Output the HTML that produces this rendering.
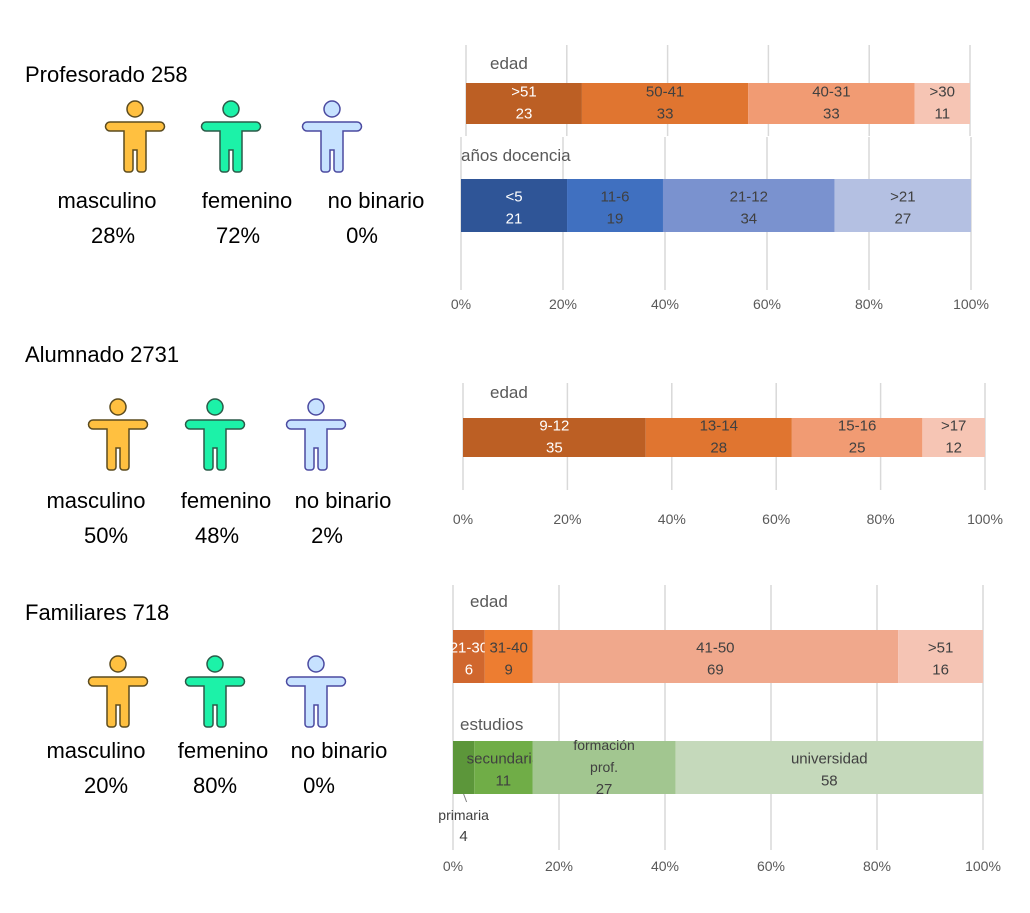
<!DOCTYPE html>
<html><head><meta charset="utf-8">
<style>
body{margin:0;background:#fff;width:1030px;height:913px;overflow:hidden;font-family:"Liberation Sans",sans-serif;}
svg{position:absolute;left:0;top:0}
</style></head>
<body>
<svg id="c" width="1030" height="913" xmlns="http://www.w3.org/2000/svg">
<defs>
<path id="person" d="M6,22 H56 a4.5,4.5 0 0 1 0,9 H42 V69 a3,3 0 0 1 -3,3 H36 a3,3 0 0 1 -3,-3 V50 H29 V69 a3,3 0 0 1 -3,3 H23 a3,3 0 0 1 -3,-3 V31 H6 a4.5,4.5 0 0 1 0,-9 Z"/>
</defs>
</svg>
<script>
// ---- data ----
const profEdadCats=[">51","50-41","40-31",">30"];
const profEdadVals=[23,33,33,11];
const profDocCats=["<5","11-6","21-12",">21"];
const profDocVals=[21,19,34,27];
const aluEdadCats=["9-12","13-14","15-16",">17"];
const aluEdadVals=[35,28,25,12];
const famEdadCats=["21-30","31-40","41-50",">51"];
const famEdadVals=[6,9,69,16];
const famEstCats=["primaria","secundaria","formación|prof.","universidad"];
const famEstVals=[4,11,27,58];
const tickLabels=["0%","20%","40%","60%","80%","100%"];
const genderCats=["masculino","femenino","no binario"];
const profGender=[28,72,0];
const aluGender=[50,48,2];
const famGender=[20,80,0];

const NS="http://www.w3.org/2000/svg";
const svg=document.getElementById('c');
function el(tag,attrs,parent){const e=document.createElementNS(NS,tag);for(const k in attrs)e.setAttribute(k,attrs[k]);(parent||svg).appendChild(e);return e;}
function txt(x,y,s,size,fill,anchor,parent){const t=el('text',{x:x,y:y,'font-size':size,fill:fill,'text-anchor':anchor||'middle','font-family':'Liberation Sans, sans-serif'},parent);t.textContent=s;return t;}

const orange1=["#BC5F24","#E07530","#F19B73","#F6C5B4"];
const orange2=["#D0672E","#ED7D31","#F0A88C","#F5C4B4"];
const blues=["#2F5597","#4070C0","#7A92CF","#B4C0E2"];
const greens=["#5C963A","#70AD47","#A2C690","#C5D9BB"];

function grid(x0,x1,y0,y1,name){
  const g=el('g',{});
  
  
  for(let i=0;i<=5;i++){const x=x0+(x1-x0)*i/5;el('line',{x1:x,x2:x,y1:y0,y2:y1,stroke:'#d9d9d9','stroke-width':1.5},g);}
}
function ticks(x0,x1,y,name){
  const g=el('g',{});
  
  
  tickLabels.forEach((l,i)=>{txt(x0+(x1-x0)*i/5,y,l,14,'#595959','middle',g);});
}
function bar(x0,x1,y0,h,cats,vals,colors,name,title,tx,ty){
  const g=el('g',{});
  
  
  const t=txt(tx,ty,title,17,'#595959','start',g);
  
  
  const sum=vals.reduce((a,b)=>a+b,0);
  const sx=v=>x0+(x1-x0)*v/sum;
  let acc=0;
  vals.forEach((v,i)=>{
    const a=sx(acc),b=sx(acc+v);acc+=v;
    const r=el('rect',{x:a,y:y0,width:b-a,height:h,fill:colors[i]},g);
    
    
    const cx=(a+b)/2, col=i==0?'#fff':'#404040';
    const lines=cats[i].split('|');
    if(cats[i]==='primaria'){
      el('line',{x1:cx,y1:y0+h,x2:cx+3,y2:y0+h+8,stroke:'#7f7f7f','stroke-width':1},g);
      txt(cx,y0+h+26,cats[i],14,'#404040','middle',g);
      txt(cx,y0+h+47,String(v),15,'#404040','middle',g);
    } else if(lines.length>1){
      txt(cx,y0+9,lines[0],14,col,'middle',g);
      txt(cx,y0+31,lines[1],14,col,'middle',g);
      txt(cx,y0+53,String(v),15,col,'middle',g);
    } else {
      const off=h>45?0:-3;
      txt(cx,y0+h/2-4+off,cats[i],15,col,'middle',g);
      txt(cx,y0+h/2+18+off,String(v),15,col,'middle',g);
    }
  });
}
const iconFill=["#FFC040","#1CF2A8","#C7E2FF"];
const iconStroke=["#5b4b1f","#2b5a48","#4b4aa0"];
function people(title,ty,centers,iconY,labelY,labelX,pctX,vals,name){
  const g=el('g',{});
  
  
  const t=txt(25,ty,title,22,'#000','start',g);
  
  
  centers.forEach((cx,i)=>{
    const ig=el('g',{transform:`translate(${cx-31},${iconY})`},g);
    
    
    el('use',{href:'#person',fill:iconFill[i],stroke:iconStroke[i],'stroke-width':1.5},ig);
    el('circle',{cx:31,cy:9,r:8,fill:iconFill[i],stroke:iconStroke[i],'stroke-width':1.5},ig);
    txt(labelX[i],labelY,genderCats[i],22,'#000','middle',g);
    txt(pctX[i],labelY+35,vals[i]+'%',22,'#000','middle',g);
  });
}
// Profesorado
people('Profesorado 258',82,[135,231,332],100,208,[107,247,376],[113,238,362],profGender,'profesorado-gender');
grid(466,970,45,136,'prof-edad-grid');
grid(461,971,137,290,'prof-docencia-grid');
bar(466,970,83,41,profEdadCats,profEdadVals,orange1,'prof-edad-bar','edad',490,69);
bar(461,971,179,53,profDocCats,profDocVals,blues,'prof-docencia-bar','años docencia',461,161);
ticks(461,971,309,'prof-x-axis');
// Alumnado
people('Alumnado 2731',362,[118,215,316],398,508,[96,226,343],[106,217,327],aluGender,'alumnado-gender');
grid(463,985,383,490,'alu-grid');
bar(463,985,418,39,aluEdadCats,aluEdadVals,orange1,'alu-edad-bar','edad',490,398);
ticks(463,985,524,'alu-x-axis');
// Familiares
people('Familiares 718',620,[118,215,316],655,758,[96,223,339],[106,215,319],famGender,'familiares-gender');
grid(453,983,585,850,'fam-grid');
bar(453,983,630,53,famEdadCats,famEdadVals,orange2,'fam-edad-bar','edad',470,607);
bar(453,983,741,53,famEstCats,famEstVals,greens,'fam-estudios-bar','estudios',460,730);
ticks(453,983,871,'fam-x-axis');
</script>
</body></html>
